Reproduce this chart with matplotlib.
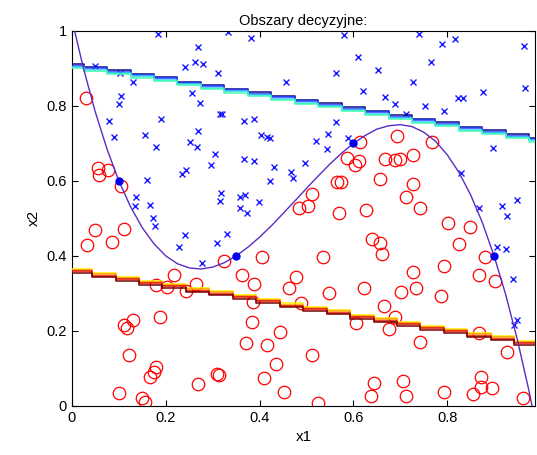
import numpy as np
import matplotlib
matplotlib.use('Agg')
import matplotlib.pyplot as plt

plt.rcParams['font.family'] = ['Liberation Sans', 'DejaVu Sans']

# Klasa 1 (x) - punkty
class1_x1 = [0.184, 0.333, 0.269, 0.049, 0.240, 0.262, 0.279, 0.312, 0.103, 0.131,
             0.257, 0.104, 0.101, 0.274, 0.315, 0.320, 0.079, 0.189, 0.090, 0.155,
             0.269, 0.179, 0.252, 0.266, 0.305, 0.296, 0.243, 0.235, 0.160, 0.318,
             0.315, 0.136, 0.135, 0.167, 0.173,
             0.381, 0.581, 0.609, 0.562, 0.652, 0.457, 0.620, 0.667, 0.688, 0.367,
             0.389, 0.562, 0.404, 0.416, 0.423, 0.546, 0.521, 0.543, 0.589, 0.367,
             0.389, 0.430, 0.496, 0.468, 0.472, 0.423, 0.358, 0.370, 0.399, 0.358,
             0.374,
             0.739, 0.789, 0.816, 0.964, 0.766, 0.727, 0.876, 0.966, 0.824, 0.833,
             0.753, 0.794, 0.712, 0.897, 0.830, 0.868, 0.916, 0.948, 0.927,
             0.177, 0.241, 0.228, 0.309, 0.331, 0.277,
             0.906, 0.925, 0.941, 0.950, 0.943]
class1_x2 = [0.992, 0.996, 0.956, 0.907, 0.903, 0.916, 0.911, 0.889, 0.887, 0.865,
             0.834, 0.827, 0.806, 0.807, 0.778, 0.778, 0.760, 0.764, 0.718, 0.722,
             0.733, 0.691, 0.703, 0.691, 0.672, 0.642, 0.628, 0.618, 0.603, 0.569,
             0.547, 0.556, 0.533, 0.536, 0.502,
             0.982, 0.988, 0.930, 0.887, 0.896, 0.865, 0.841, 0.825, 0.806, 0.760,
             0.764, 0.756, 0.723, 0.716, 0.714, 0.725, 0.707, 0.685, 0.714, 0.658,
             0.653, 0.636, 0.649, 0.625, 0.609, 0.600, 0.558, 0.563, 0.545, 0.529,
             0.514,
             0.992, 0.965, 0.979, 0.961, 0.916, 0.865, 0.838, 0.847, 0.822, 0.822,
             0.800, 0.787, 0.778, 0.687, 0.620, 0.529, 0.532, 0.548, 0.507,
             0.480, 0.456, 0.423, 0.434, 0.458, 0.382,
             0.423, 0.419, 0.339, 0.229, 0.216]

# Klasa 2 (o)
class2_x1 = [0.030, 0.055, 0.076, 0.058, 0.104,
             0.615, 0.587, 0.613, 0.604, 0.667, 0.565, 0.574, 0.656, 0.511, 0.484,
             0.503, 0.570, 0.626,
             0.693, 0.767, 0.689, 0.700, 0.727, 0.727, 0.712, 0.743,
             0.049, 0.110, 0.032, 0.085, 0.324, 0.218, 0.180, 0.202, 0.264, 0.243,
             0.110, 0.118, 0.131, 0.187, 0.122, 0.180, 0.175, 0.166, 0.310, 0.313,
             0.268, 0.101, 0.150, 0.156,
             0.640, 0.656, 0.662, 0.406, 0.536, 0.363, 0.388, 0.477, 0.462, 0.549,
             0.622, 0.387, 0.489, 0.666, 0.606, 0.677, 0.384, 0.443, 0.372, 0.415,
             0.511, 0.434, 0.409, 0.452, 0.524, 0.643, 0.638,
             0.801, 0.848, 0.826, 0.881, 0.794, 0.727, 0.867, 0.902, 0.702, 0.734,
             0.787, 0.689, 0.743, 0.867, 0.928, 0.706, 0.712, 0.794, 0.872, 0.872,
             0.896, 0.856, 0.962]
class2_x2 = [0.820, 0.634, 0.629, 0.616, 0.587,
             0.705, 0.662, 0.653, 0.643, 0.658, 0.596, 0.596, 0.605, 0.564, 0.527,
             0.533, 0.514, 0.523,
             0.720, 0.705, 0.656, 0.658, 0.669, 0.591, 0.556, 0.527,
             0.469, 0.471, 0.429, 0.436, 0.387, 0.348, 0.323, 0.316, 0.325, 0.307,
             0.216, 0.209, 0.228, 0.236, 0.136, 0.103, 0.089, 0.076, 0.085, 0.083,
             0.058, 0.034, 0.022, 0.010,
             0.445, 0.434, 0.405, 0.398, 0.398, 0.348, 0.325, 0.345, 0.314, 0.300,
             0.314, 0.278, 0.275, 0.267, 0.220, 0.204, 0.225, 0.196, 0.167, 0.163,
             0.136, 0.112, 0.074, 0.038, 0.007, 0.060, 0.027,
             0.487, 0.478, 0.432, 0.398, 0.372, 0.358, 0.348, 0.332, 0.305, 0.314,
             0.294, 0.238, 0.170, 0.194, 0.143, 0.065, 0.027, 0.038, 0.077, 0.050,
             0.047, 0.031, 0.022]

# Punkty kontrolne krzywej (niebieskie kropki)
ctrl_x1 = [0.1, 0.35, 0.6, 0.9]
ctrl_x2 = [0.6, 0.4, 0.7, 0.4]

# Krzywa
curve_x1 = [0.0, 0.025, 0.05, 0.075, 0.1, 0.125, 0.15, 0.175, 0.2, 0.225, 0.25,
            0.275, 0.3, 0.325, 0.35, 0.375, 0.4, 0.425, 0.45, 0.475, 0.5, 0.525,
            0.55, 0.575, 0.6, 0.625, 0.65, 0.675, 0.7, 0.725, 0.75, 0.775, 0.8,
            0.825, 0.85, 0.875, 0.9, 0.925, 0.95, 0.975, 0.981]
curve_x2 = [1.03, 0.898, 0.783, 0.684, 0.6, 0.531, 0.475, 0.432, 0.4, 0.379, 0.368,
            0.365, 0.37, 0.382, 0.4, 0.423, 0.45, 0.480, 0.513, 0.546, 0.58, 0.613,
            0.645, 0.674, 0.7, 0.721, 0.738, 0.747, 0.75, 0.745, 0.73, 0.706, 0.67,
            0.623, 0.563, 0.489, 0.4, 0.296, 0.175, 0.037, 0.0]

# Granice obszarów (schodkowe)
upper_breaks = [0.025, 0.075, 0.125, 0.175, 0.225, 0.275, 0.325, 0.375, 0.425, 0.475,
                0.525, 0.575, 0.625, 0.675, 0.725, 0.775, 0.825, 0.875, 0.925, 0.975]
upper_levels = [0.912, 0.905, 0.896, 0.887, 0.878, 0.866, 0.857, 0.847, 0.837, 0.827,
                0.817, 0.808, 0.797, 0.787, 0.776, 0.766, 0.757, 0.745, 0.736, 0.725,
                0.716]
lower_breaks = [0.043, 0.093, 0.143, 0.193, 0.243, 0.293, 0.343, 0.393, 0.443, 0.493,
                0.543, 0.593, 0.643, 0.693, 0.743, 0.793, 0.843, 0.893, 0.943]
lower_levels = [0.360, 0.349, 0.339, 0.328, 0.320, 0.309, 0.301, 0.291, 0.280, 0.268,
                0.259, 0.250, 0.238, 0.229, 0.219, 0.208, 0.200, 0.189, 0.181, 0.168]

xmax = 0.987

fig = plt.figure(figsize=(5.37, 4.55), dpi=100)
ax = fig.add_axes([0.134, 0.108, 0.862, 0.824])

ax.plot(class1_x1, class1_x2, 'x', color='#1a1aff', markersize=5, mew=1.0)
ax.plot(class2_x1, class2_x2, 'o', mfc='none', mec='#ff0000', markersize=9, mew=0.9)

# pasma granic
ux = [0.0] + upper_breaks + [xmax]
uy = np.array(upper_levels + [upper_levels[-1]])
for off, col in zip([-0.001, -0.0045, -0.008, -0.0115],
                    ['#0a0a8c', '#2040ff', '#30c8ff', '#40ffb0']):
    ax.step(ux, uy + off, where='post', color=col, lw=1.1, zorder=3)

lx = [0.0] + lower_breaks + [xmax]
ly = np.array(lower_levels + [lower_levels[-1]])
for off, col in zip([0.0055, 0.002, -0.0015, -0.005],
                    ['#ffee00', '#ff9900', '#dd1100', '#7a0000']):
    ax.step(lx, ly + off, where='post', color=col, lw=1.1, zorder=3)

ax.plot(curve_x1, curve_x2, '-', color='#5b2bc4', lw=1.0, zorder=4)
ax.plot(ctrl_x1, ctrl_x2, 'o', color='#0000ee', markersize=5, zorder=5)

ax.set_xlim(0, xmax)
ax.set_ylim(0, 1)
ax.set_xticks([0, 0.2, 0.4, 0.6, 0.8])
ax.set_xticklabels(['0', '0.2', '0.4', '0.6', '0.8'])
ax.set_yticks([0, 0.2, 0.4, 0.6, 0.8, 1])
ax.set_yticklabels(['0', '0.2', '0.4', '0.6', '0.8', '1'])
ax.tick_params(direction='in', top=True, right=True, length=4, labelsize=10.5)
ax.set_xlabel('x1', fontsize=11)
ax.set_ylabel('x2', fontsize=11)
ax.set_title('Obszary decyzyjne:', fontsize=10.5, pad=4)

fig.savefig('out.png', dpi=100)
